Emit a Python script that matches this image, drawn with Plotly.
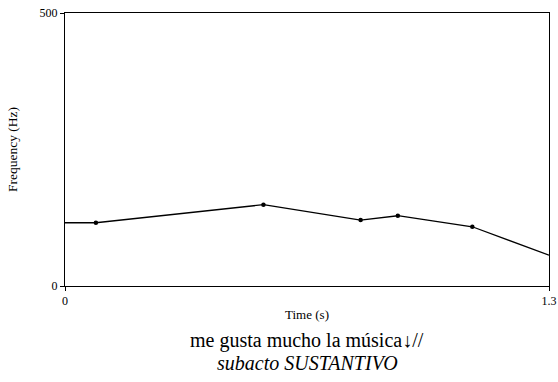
import plotly.graph_objects as go

# Pitch contour (stylized): time in seconds, F0 in Hz
time_s = [0.0, 0.083, 0.533, 0.794, 0.894, 1.094, 1.3]
freq_hz = [115.8, 115.8, 148.9, 120.8, 128.7, 108.5, 56.4]
# Targets carrying a dot (interior points)
target_t = [0.083, 0.533, 0.794, 0.894, 1.094]
target_f = [115.8, 148.9, 120.8, 128.7, 108.5]

x_ticks = [0, 1.3]
x_tick_text = ["0", "1.3"]
y_ticks = [0, 500]
y_tick_text = ["0", "500"]

caption_1 = "me gusta mucho la música↓//"
caption_2 = "<i>subacto SUSTANTIVO</i>"

serif = "Liberation Serif"

fig = go.Figure()
fig.add_trace(go.Scatter(x=time_s, y=freq_hz, mode="lines",
                         line=dict(color="black", width=1.3),
                         hoverinfo="skip", showlegend=False))
fig.add_trace(go.Scatter(x=target_t, y=target_f, mode="markers",
                         marker=dict(color="black", size=4.5),
                         showlegend=False))

axis_common = dict(showline=True, mirror=True, linecolor="black", linewidth=1,
                   showgrid=False, zeroline=False, ticks="outside", ticklen=4,
                   tickcolor="black", automargin=False,
                   tickfont=dict(family=serif, size=12, color="black"))

fig.update_layout(
    width=558, height=382,
    margin=dict(l=65, r=9, t=13, b=96),
    paper_bgcolor="white", plot_bgcolor="white",
    font=dict(family=serif, color="black"),
    xaxis=dict(range=[0, 1.3], tickvals=x_ticks, ticktext=x_tick_text,
               title=dict(text="Time (s)", font=dict(family=serif, size=13, color="black"),
                          standoff=2),
               **axis_common),
    yaxis=dict(range=[0, 500], tickvals=y_ticks, ticktext=y_tick_text,
               title=dict(text="Frequency (Hz)", font=dict(family=serif, size=13.5, color="black"),
                          standoff=18),
               **axis_common),
    annotations=[
        dict(text=caption_1, x=0.5, y=-0.149, xref="paper", yref="paper",
             xanchor="center", yanchor="top", showarrow=False,
             font=dict(family=serif, size=20, color="black")),
        dict(text=caption_2, x=0.5, y=-0.234, xref="paper", yref="paper",
             xanchor="center", yanchor="top", showarrow=False,
             font=dict(family=serif, size=20, color="black")),
    ],
)

fig.write_html("out.html")
